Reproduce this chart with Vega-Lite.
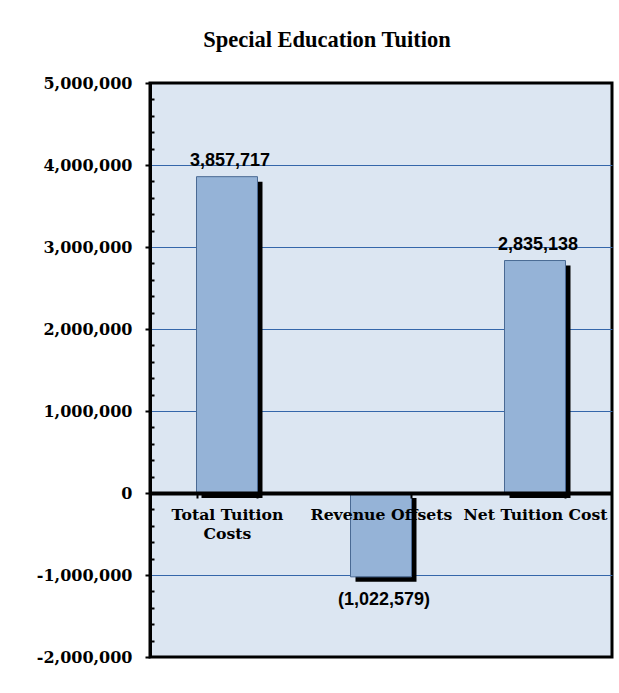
{
  "$schema": "https://vega.github.io/schema/vega-lite/v6.json",
  "autosize": "none",
  "width": 462,
  "height": 574,
  "padding": {"left": 150, "top": 83, "right": 7, "bottom": 36},
  "background": "white",
  "title": {
    "text": "Special Education Tuition",
    "font": "Liberation Serif",
    "fontSize": 22.5,
    "fontWeight": "bold",
    "color": "black",
    "anchor": "middle",
    "frame": "group",
    "dx": -54,
    "baseline": "alphabetic",
    "offset": 6
  },
  "data": {
    "values": [
      {"category": "Total Tuition Costs", "value": 3857717, "label": "3,857,717"},
      {"category": "Revenue Offsets", "value": -1022579, "label": "(1,022,579)"},
      {"category": "Net Tuition Cost", "value": 2835138, "label": "2,835,138"}
    ]
  },
  "encoding": {
    "x": {
      "field": "category",
      "type": "nominal",
      "sort": null,
      "scale": {"paddingInner": 0.604, "paddingOuter": 0.302},
      "axis": {
        "title": null,
        "orient": "bottom",
        "offset": -164,
        "domainColor": "black",
        "domainWidth": 4,
        "tickBand": "extent",
        "tickColor": "black",
        "tickWidth": 2,
        "tickSize": 5,
        "labelFont": "DejaVu Serif",
        "labelFontSize": 15.7,
        "labelFontWeight": "bold",
        "labelColor": "black",
        "labelPadding": 9,
        "labelAngle": 0,
        "labelLineHeight": 19,
        "labelOverlap": false,
        "labelExpr": "datum.label == 'Total Tuition Costs' ? ['Total Tuition', 'Costs'] : datum.label",
        "grid": false,
        "zindex": 1
      }
    }
  },
  "layer": [
    {
      "mark": {"type": "bar", "color": "black", "xOffset": 5, "yOffset": 5, "y2Offset": 5},
      "encoding": {
        "y": {
          "field": "value",
          "type": "quantitative",
          "scale": {"domain": [-2000000, 5000000], "nice": false, "zero": true},
          "axis": {
            "title": null,
            "orient": "left",
            "values": [-2000000, -1000000, 0, 1000000, 2000000, 3000000, 4000000, 5000000],
            "labelExpr": "(datum.value < 0 ? '-' : '') + format(abs(datum.value), ',')",
            "labelFont": "DejaVu Serif",
            "labelFontSize": 16,
            "labelFontWeight": "bold",
            "labelColor": "black",
            "labelPadding": 13,
            "tickSize": 5,
            "tickColor": "black",
            "tickWidth": 2,
            "domainColor": "black",
            "domainWidth": 3,
            "grid": true,
            "gridColor": {"condition": {"test": "datum.value == 5000000 || datum.value == -2000000 || datum.value == 0", "value": "transparent"}, "value": "#3466AA"},
            "gridWidth": 1.2,
            "gridOpacity": 1
          }
        }
      }
    },
    {
      "mark": {"type": "bar", "fill": "#95B3D7", "stroke": "#4A6A94", "strokeWidth": 1},
      "encoding": {
        "y": {
          "field": "value",
          "type": "quantitative",
          "axis": {
            "title": null,
            "orient": "left",
            "values": [-1800000, -1600000, -1400000, -1200000, -800000, -600000, -400000, -200000, 200000, 400000, 600000, 800000, 1200000, 1400000, 1600000, 1800000, 2200000, 2400000, 2600000, 2800000, 3200000, 3400000, 3600000, 3800000, 4200000, 4400000, 4600000, 4800000],
            "labels": false,
            "domain": false,
            "grid": false,
            "tickSize": -4,
            "tickColor": "black",
            "tickWidth": 2
          }
        }
      }
    },
    {
      "transform": [{"filter": "datum.value > 0"}],
      "mark": {"type": "text", "font": "Liberation Sans", "fontSize": 18, "fontWeight": "bold", "color": "black", "baseline": "alphabetic", "dy": -11, "dx": 3},
      "encoding": {
        "y": {"field": "value", "type": "quantitative", "axis": null},
        "text": {"field": "label"}
      }
    },
    {
      "transform": [{"filter": "datum.value < 0"}],
      "mark": {"type": "text", "font": "Liberation Sans", "fontSize": 18, "fontWeight": "bold", "color": "black", "baseline": "alphabetic", "dy": 28, "dx": 3},
      "encoding": {
        "y": {"field": "value", "type": "quantitative", "axis": null},
        "text": {"field": "label"}
      }
    }
  ],
  "resolve": {"axis": {"y": "independent"}},
  "config": {
    "view": {"fill": "#DCE6F2", "stroke": "black", "strokeWidth": 3}
  }
}
